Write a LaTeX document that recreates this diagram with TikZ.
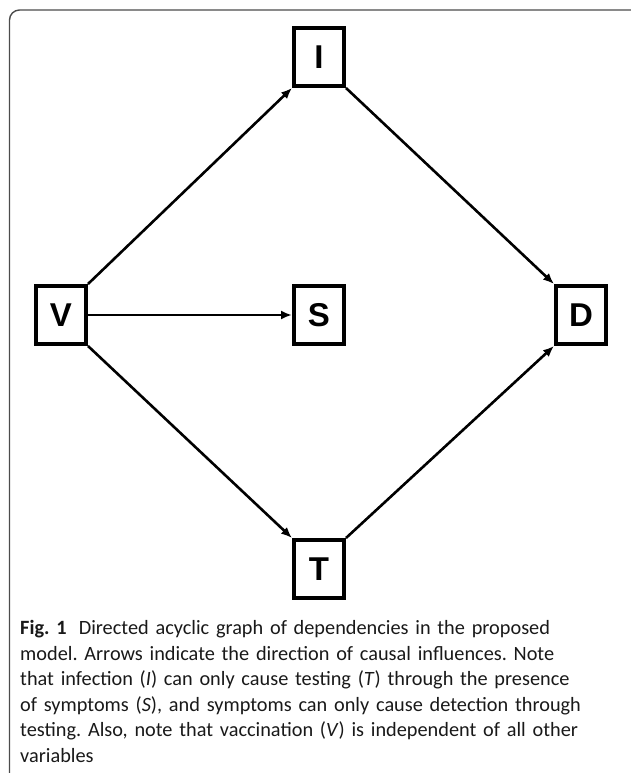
\documentclass[tikz,border=0pt]{standalone}
\usepackage{fontspec}
\setmainfont{Carlito}
\newfontfamily\boxfont{Liberation Sans}
\usetikzlibrary{arrows.meta}
\tikzset{
  varbox/.style={draw=black, line width=4pt, minimum width=50pt, minimum height=58pt,
    inner sep=0pt, font=\boxfont\bfseries\fontsize{33}{33}\selectfont},
  conn/.style={line width=2.6pt, -{Latex[length=11pt,width=9pt]}},
  frame/.style={draw=black!70, line width=1.4pt, rounded corners=10pt},
  captext/.style={anchor=north west, align=left, inner sep=0pt,
    font=\frenchspacing\fontsize{20.3}{25.6}\selectfont, text width=605pt, text=black!90}
}
\begin{document}
\begin{tikzpicture}[x=1pt,y=-1pt]
  \useasboundingbox (0,0) rectangle (630,773);
  \draw[frame] (9.5,780) -- (9.5,10) -- (640,10);
  \node[varbox] (I) at (319,57) {I};
  \node[varbox] (V) at (61,315) {V};
  \node[varbox] (S) at (319,315) {S};
  \node[varbox] (D) at (581,315) {D};
  \node[varbox] (T) at (319,569) {T};
  \draw[conn] (V.north east) -- (I.south west);
  \draw[conn] (I.south east) -- (D.north west);
  \draw[conn] (V.east) -- (S.west);
  \draw[conn] (V.south east) -- (T.north west);
  \draw[conn] (T.north east) -- (D.south west);
  \node[captext] (cap) at (20,620) {\textbf{Fig. 1}\hspace{0.6em}Directed acyclic graph of dependencies in the proposed\\
model. Arrows indicate the direction of causal influences. Note\\
that infection (\textit{I}) can only cause testing (\textit{T}) through the presence\\
of symptoms (\textit{S}), and symptoms can only cause detection through\\
testing. Also, note that vaccination (\textit{V}) is independent of all other\\
variables};
\end{tikzpicture}
\end{document}
